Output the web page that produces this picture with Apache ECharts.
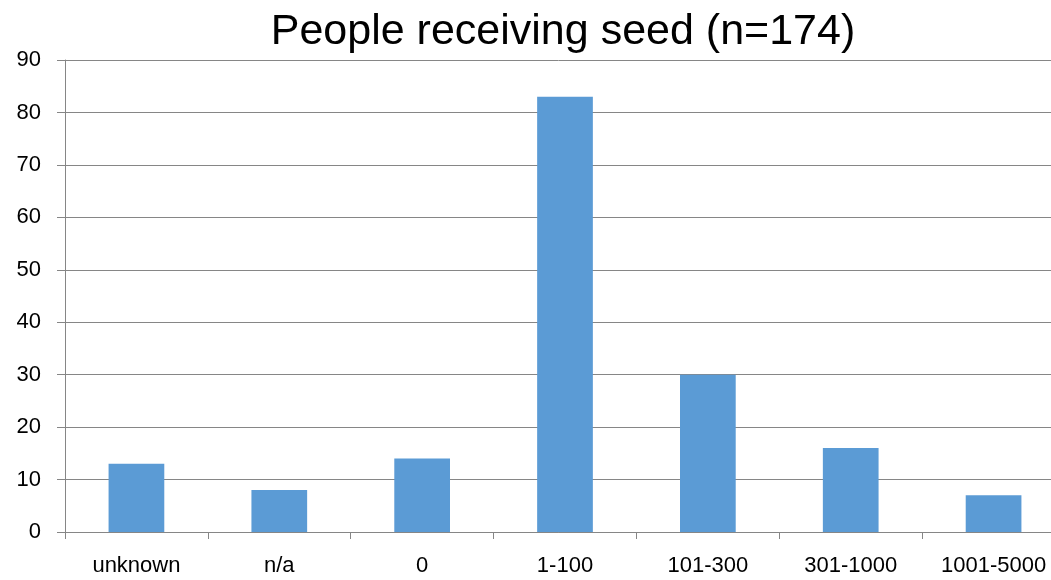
<!DOCTYPE html>
<html><head><meta charset="utf-8">
<script src="https://cdn.jsdelivr.net/npm/echarts@6/dist/echarts.min.js"></script>
<style>html,body{margin:0;padding:0;background:#fff}#c{width:1051px;height:580px}</style>
</head><body><div id="c"></div>
<script>
const categories = ['unknown','n/a','0','1-100','101-300','301-1000','1001-5000'];
const values = [13, 8, 14, 83, 30, 16, 7];
const titleText = 'People receiving seed (n=174)';
const font = 'Liberation Sans';
const chart = echarts.init(document.getElementById('c'));
chart.setOption({
  animation: false,
  title: {text: titleText, left: 558, top: 6, textAlign: 'center',
    textStyle: {fontFamily: font, fontSize: 43, fontWeight: 'normal', color: '#000'}},
  grid: {left: 65, width: 1000, top: 60, bottom: 48, containLabel: false, outerBoundsMode: 'none'},
  xAxis: {type: 'category', data: categories,
    axisLine: {lineStyle: {color: '#868686', width: 1}},
    axisTick: {show: true, length: 7, lineStyle: {color: '#868686'}},
    axisLabel: {fontFamily: font, fontSize: 22, color: '#000', margin: 23, interval: 0}},
  yAxis: {type: 'value', min: 0, max: 90, interval: 10,
    axisLine: {show: true, lineStyle: {color: '#868686'}},
    axisTick: {show: true, length: 8, lineStyle: {color: '#868686'}},
    splitLine: {lineStyle: {color: '#868686', width: 1}},
    axisLabel: {fontFamily: font, fontSize: 22, color: '#000', margin: 24}},
  series: [{type: 'bar', data: values, barWidth: '39%',
    itemStyle: {color: '#5B9BD5'}}]
});
</script></body></html>
